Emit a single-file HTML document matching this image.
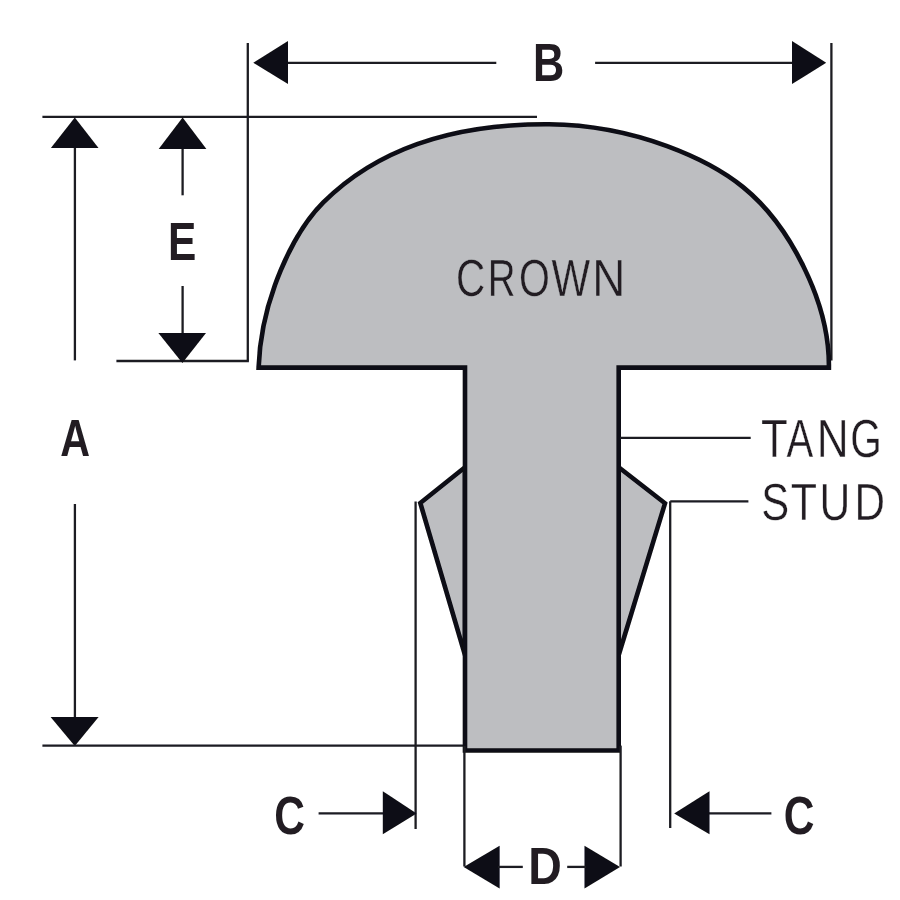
<!DOCTYPE html>
<html><head><meta charset="utf-8"><style>
html,body{margin:0;padding:0;background:#fff;width:900px;height:900px;overflow:hidden}
svg{display:block;font-family:"Liberation Sans",sans-serif}
</style></head><body>
<svg width="900" height="900" viewBox="0 0 900 900">
<defs><filter id="soft" x="0" y="0" width="900" height="900" filterUnits="userSpaceOnUse"><feGaussianBlur stdDeviation="0.45"/></filter></defs>
<rect width="900" height="900" fill="#fff"/>
<g filter="url(#soft)">
<line x1="247.8" y1="43" x2="247.8" y2="361.4" stroke="#1c1c24" stroke-width="2.3"/>
<line x1="831.4" y1="43" x2="831.4" y2="360.5" stroke="#1c1c24" stroke-width="2.3"/>
<line x1="287" y1="62.8" x2="496.3" y2="62.8" stroke="#1c1c24" stroke-width="2.3"/>
<line x1="595.1" y1="62.8" x2="793" y2="62.8" stroke="#1c1c24" stroke-width="2.3"/>
<path d="M253.3,62.8 L288.0,41.1 L288.0,84.0 Z" fill="#0b0b12"/>
<path d="M826.2,62.8 L792.0,41.1 L792.0,84.0 Z" fill="#0b0b12"/>
<line x1="42.4" y1="116.9" x2="537" y2="116.9" stroke="#1c1c24" stroke-width="2.3"/>
<line x1="116.4" y1="361" x2="248.8" y2="361" stroke="#1c1c24" stroke-width="2.3"/>
<line x1="74.9" y1="147" x2="74.9" y2="360.4" stroke="#1c1c24" stroke-width="2.3"/>
<line x1="74.9" y1="504" x2="74.9" y2="718" stroke="#1c1c24" stroke-width="2.3"/>
<path d="M74.8,117.5 L50.9,148.0 L98.5,148.0 Z" fill="#0b0b12"/>
<path d="M74.8,746.0 L50.6,717.0 L98.6,717.0 Z" fill="#0b0b12"/>
<line x1="42.4" y1="745.6" x2="465" y2="745.6" stroke="#1c1c24" stroke-width="2.3"/>
<line x1="182.6" y1="148" x2="182.6" y2="195.3" stroke="#1c1c24" stroke-width="2.3"/>
<line x1="182.6" y1="286" x2="182.6" y2="334" stroke="#1c1c24" stroke-width="2.3"/>
<path d="M182.6,117.5 L158.7,149.0 L206.4,149.0 Z" fill="#0b0b12"/>
<path d="M182.4,363.0 L158.4,333.0 L206.0,333.0 Z" fill="#0b0b12"/>
<path d="M465.0,467.3 L420.3,503.0 L465.0,655.0 Z" fill="#bdbec1" stroke="#0b0b12" stroke-width="4.6" stroke-linejoin="miter"/>
<path d="M618.7,467.3 L665.0,503.3 L618.7,655.0 Z" fill="#bdbec1" stroke="#0b0b12" stroke-width="4.6" stroke-linejoin="miter"/>
<path d="M258.6,367.6 C261.0,299.0 293.4,232.3 323.3,202.4 C370.0,155.9 438.7,124.2 545.4,124.2 C637.6,124.2 711.8,161.6 743.1,187.1 C788.8,224.1 829.8,301.4 828.9,367.6 L618.7,367.6 L618.7,750.5 L465,750.5 L465,367.6 Z" fill="#bdbec1" stroke="#0b0b12" stroke-width="4.6" stroke-linejoin="miter"/>
<line x1="620" y1="437.8" x2="750.7" y2="437.8" stroke="#1c1c24" stroke-width="2.3"/>
<line x1="670.2" y1="501.3" x2="748.4" y2="501.3" stroke="#1c1c24" stroke-width="2.3"/>
<line x1="670.2" y1="501.3" x2="670.2" y2="828" stroke="#1c1c24" stroke-width="2.3"/>
<line x1="415.6" y1="501.5" x2="415.6" y2="829" stroke="#1c1c24" stroke-width="2.3"/>
<line x1="318.6" y1="813.4" x2="384" y2="813.4" stroke="#1c1c24" stroke-width="2.3"/>
<path d="M416.6,813.4 L382.8,791.2 L382.8,834.2 Z" fill="#0b0b12"/>
<line x1="708" y1="813.4" x2="771.4" y2="813.4" stroke="#1c1c24" stroke-width="2.3"/>
<path d="M674.2,813.4 L709.5,791.2 L709.5,834.2 Z" fill="#0b0b12"/>
<line x1="464.4" y1="745.6" x2="464.4" y2="866.5" stroke="#1c1c24" stroke-width="2.3"/>
<line x1="620.6" y1="745.6" x2="620.6" y2="866.5" stroke="#1c1c24" stroke-width="2.3"/>
<path d="M463.7,866.9 L499.6,845.8 L499.6,888.6 Z" fill="#0b0b12"/>
<path d="M620.0,866.9 L584.5,845.8 L584.5,888.6 Z" fill="#0b0b12"/>
<line x1="498" y1="866.9" x2="522.8" y2="866.9" stroke="#1c1c24" stroke-width="2.3"/>
<line x1="567.2" y1="866.9" x2="586" y2="866.9" stroke="#1c1c24" stroke-width="2.3"/>
<g font-size="54.22" font-weight="bold" fill="#201e22" ><text transform="translate(533.10,80.50) scale(0.7984,1)">B</text></g>
<g font-size="53.49" font-weight="bold" fill="#201e22" ><text transform="translate(168.06,259.70) scale(0.7931,1)">E</text></g>
<g font-size="52.33" font-weight="bold" fill="#201e22" ><text transform="translate(60.27,456.30) scale(0.7890,1)">A</text></g>
<g font-size="53.05" font-weight="bold" fill="#201e22" ><text transform="translate(274.26,834.30) scale(0.8015,1)">C</text><text transform="translate(783.86,834.30) scale(0.8015,1)">C</text></g>
<g font-size="52.47" font-weight="bold" fill="#201e22" ><text transform="translate(528.19,884.00) scale(0.8856,1)">D</text></g>
<g font-size="51.60" font-weight="normal" fill="#201e22" stroke="#bdbec1" stroke-width="0.4"><text transform="translate(456.05,295.50) scale(0.7834,1)">C</text><text transform="translate(487.75,295.50) scale(0.7442,1)">R</text><text transform="translate(519.02,295.50) scale(0.7694,1)">O</text><text transform="translate(551.52,295.50) scale(0.7930,1)">W</text><text transform="translate(592.34,295.50) scale(0.8882,1)">N</text></g>
<g font-size="53.20" font-weight="normal" fill="#201e22" stroke="#fff" stroke-width="0.4"><text transform="translate(760.91,456.80) scale(0.8245,1)">T</text><text transform="translate(786.62,456.80) scale(0.7541,1)">A</text><text transform="translate(816.67,456.80) scale(0.8312,1)">N</text><text transform="translate(850.26,456.80) scale(0.7630,1)">G</text></g>
<g font-size="52.18" font-weight="normal" fill="#201e22" stroke="#fff" stroke-width="0.4"><text transform="translate(761.30,520.10) scale(0.8023,1)">S</text><text transform="translate(790.73,520.10) scale(0.8236,1)">T</text><text transform="translate(819.61,520.10) scale(0.8167,1)">U</text><text transform="translate(854.44,520.10) scale(0.8089,1)">D</text></g>
</g>
</svg>
</body></html>
